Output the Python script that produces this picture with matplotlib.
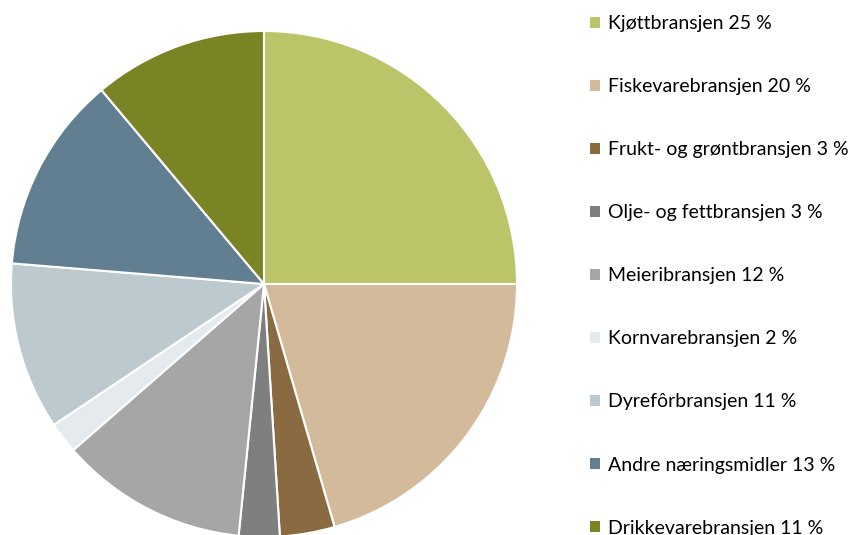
import matplotlib
matplotlib.use("Agg")
import matplotlib.pyplot as plt
from matplotlib.patches import Patch

labels = ["Kjøttbransjen", "Fiskevarebransjen", "Frukt- og grøntbransjen",
          "Olje- og fettbransjen", "Meieribransjen", "Kornvarebransjen",
          "Dyrefôrbransjen", "Andre næringsmidler", "Drikkevarebransjen"]
shares = [25.0, 20.5, 3.5, 2.6, 12.0, 2.0, 10.7, 12.6, 11.1]
shown_pct = [25, 20, 3, 3, 12, 2, 11, 13, 11]
colors = ["#BBC469", "#D2BA9A", "#8A6A40", "#7F7F7F", "#A6A6A6",
          "#E4EAED", "#BCCAD0", "#627F91", "#7A8424"]

plt.rcParams["font.family"] = ["Lato", "DejaVu Sans"]

W, H = 856, 535
fig = plt.figure(figsize=(W / 100, H / 100), dpi=100)

cx, cy, r = 264, 284, 253
ax = fig.add_axes([(cx - r) / W, (H - cy - r) / H, 2 * r / W, 2 * r / H])
ax.pie(shares, colors=colors, startangle=90, counterclock=False, radius=1,
       wedgeprops=dict(edgecolor="white", linewidth=1.5))
ax.set_xlim(-1, 1)
ax.set_ylim(-1, 1)
ax.set_aspect("equal")
ax.axis("off")

handles = [Patch(facecolor=c, edgecolor="none") for c in colors]
texts = [f"{l} {p} %" for l, p in zip(labels, shown_pct)]
fig.legend(handles, texts, loc="upper left", bbox_to_anchor=(590 / W, 1 - 15 / H),
           frameon=False, fontsize=14, handlelength=0.5, handleheight=0.5,
           handletextpad=0.45, labelspacing=2.37, borderaxespad=0, borderpad=0)

fig.savefig("out.png", dpi=100)
